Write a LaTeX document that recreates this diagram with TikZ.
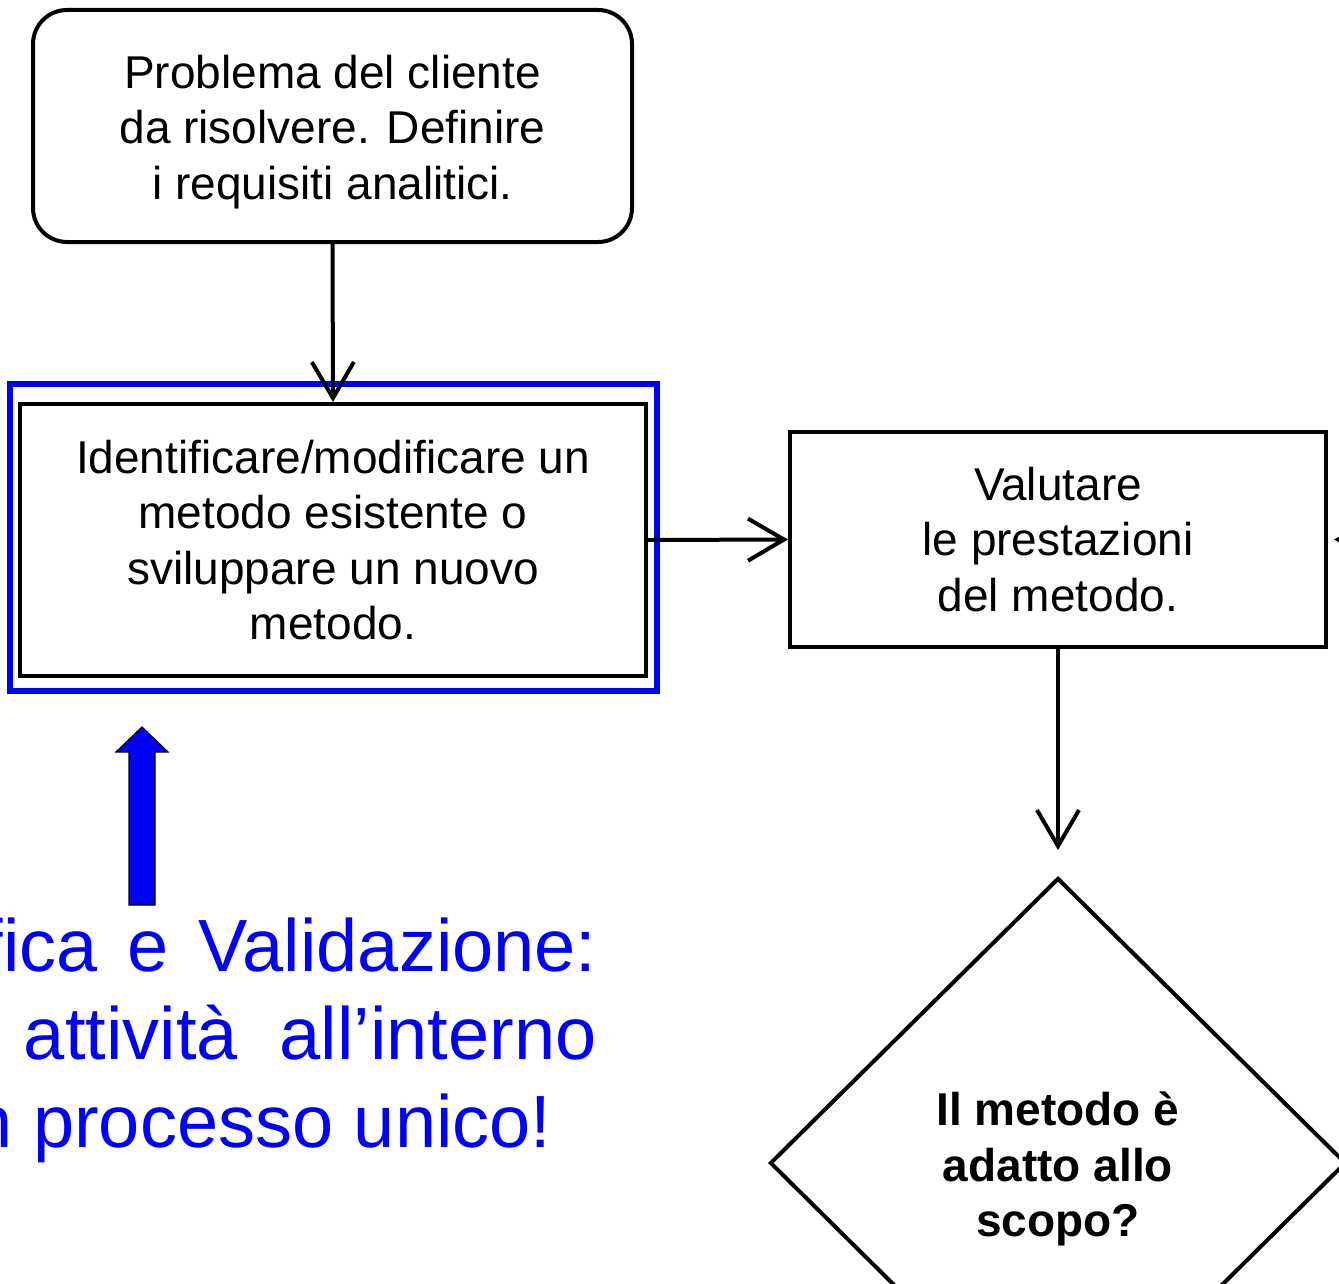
\documentclass[tikz,border=0pt]{standalone}
\usepackage{fontspec}
\setmainfont{Liberation Sans}
\usetikzlibrary{arrows.meta,shapes.geometric}
\definecolor{hlblue}{RGB}{0,0,255}
\tikzset{
  boxtext/.style={font=\fontsize{23}{27.6}\selectfont, align=center, text=black},
  flowbox/.style={draw=black, line width=2pt, inner sep=0pt, boxtext},
  flowarrow/.style={draw=black, line width=2pt, -{Straight Barb[length=18pt,width=21pt]}},
  bluetext/.style={font=\fontsize{37}{44}\selectfont, text=hlblue, inner sep=0pt}
}
\begin{document}
\begin{tikzpicture}[x=0.5pt,y=-0.5pt]
\useasboundingbox (0,0) rectangle (1339,1284);
\clip (0,0) rectangle (1339,1284);
% boxes
\node[flowbox, rounded corners=17pt, minimum width=299.5pt, minimum height=116pt] (b1) at (332.5,126) {};
\node[boxtext, inner sep=0pt] (b1t) at (332.5,132)
  {Problema del cliente\\da risolvere. Definire\\i requisiti analitici.};
\node[flowbox, minimum width=313pt, minimum height=136pt] (b2) at (333,540)
  {Identificare/modificare un\\metodo esistente o\\sviluppare un nuovo\\metodo.};
\node[draw=hlblue, line width=3pt, minimum width=323.5pt, minimum height=153.5pt, inner sep=0pt] (hl) at (333.5,537.5) {};
\node[flowbox, minimum width=268pt, minimum height=107.5pt] (b3) at (1058,539.5)
  {Valutare\\le prestazioni\\del metodo.};
\node[diamond, draw=black, line width=2pt, minimum width=288pt, minimum height=285pt, inner sep=0pt] (dia) at (1058,1163) {};
\node[boxtext, font=\fontsize{23}{27.6}\selectfont\bfseries, inner sep=0pt] (diat) at (1058,1169)
  {Il metodo è\\adatto allo\\scopo?};
\coordinate (rin) at (1440,540);
% connectors
\draw[flowarrow] (b1.south) -- (b2.north);
\draw[flowarrow] (b2.east) -- (b3.west);
\draw[flowarrow, shorten >=13pt] (b3.south) -- (dia.north);
\draw[flowarrow, shorten >=3pt] (rin) -- (b3.east);
% blue block arrow
\fill[hlblue, draw=black, line width=0.6pt]
  (129,905) -- (129,752) -- (116,752) -- (142,727) -- (168,752) -- (155,752) -- (155,905) -- cycle;
% blue text
\node[bluetext, anchor=base east] (t1) at (597,971) {Verifica\hspace{15pt}e\hspace{15pt}Validazione:};
\node[bluetext, anchor=base east] (t2) at (597,1059) {attività\hspace{21pt}all’interno};
\node[bluetext, anchor=base west] (t3) at (-70,1147) {un processo unico!};
\end{tikzpicture}
\end{document}
